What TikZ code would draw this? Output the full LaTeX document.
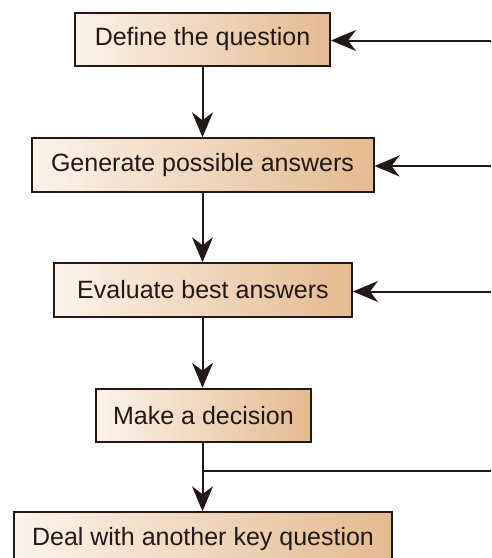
\documentclass[tikz,border=0pt]{standalone}
\usepackage{fontspec}
\setmainfont{Liberation Sans}
\usetikzlibrary{arrows.meta}
\definecolor{ink}{RGB}{35,24,21}
\definecolor{creamL}{RGB}{252,243,234}
\definecolor{tanR}{RGB}{229,186,143}
\tikzset{
  stepbox/.style={draw=ink, line width=2pt, inner sep=0pt,
    left color=creamL, right color=tanR, text=ink,
    font=\fontsize{25}{30}\selectfont, minimum height=53.5pt},
  flow/.style={draw=ink, line width=2pt,
    -{Stealth[length=25pt, width=21pt, inset=8pt]}},
  plain/.style={draw=ink, line width=2pt}
}
\begin{document}
\begin{tikzpicture}[x=1pt, y=-1pt]
  \useasboundingbox (0,0) rectangle (491,558);
  \clip (0,0) rectangle (491,558);
  % process boxes
  \node[stepbox, minimum width=255pt] (q)  at (202.5,39.5)  {Define the question};
  \node[stepbox, minimum width=342pt] (g)  at (202.5,165)   {Generate possible answers};
  \node[stepbox, minimum width=298pt] (e)  at (203,290)     {Evaluate best answers};
  \node[stepbox, minimum width=215pt] (m)  at (203.5,415.5) {Make a decision};
  \node[stepbox, minimum width=378pt] (k)  at (203,539)     {Deal with another key question};
  % free ends at the right margin
  \coordinate (rq) at (491,40.5);
  \coordinate (rg) at (491,166);
  \coordinate (re) at (491,291.5);
  \coordinate (rm) at (491,471);
  \coordinate (br) at (202.5,471);
  % main flow
  \draw[flow] (q.south -| 202.5,0) -- (g.north -| 202.5,0);
  \draw[flow] (g.south -| 202.5,0) -- (e.north -| 202.5,0);
  \draw[flow] (e.south -| 202.5,0) -- (m.north -| 202.5,0);
  \draw[flow] (m.south -| 202.5,0) -- (k.north -| 202.5,0);
  % feedback inputs
  \draw[flow] (rq) -- (q.east |- rq);
  \draw[flow] (rg) -- (g.east |- rg);
  \draw[flow] (re) -- (e.east |- re);
  \draw[plain] (br) -- (rm);
\end{tikzpicture}
\end{document}
